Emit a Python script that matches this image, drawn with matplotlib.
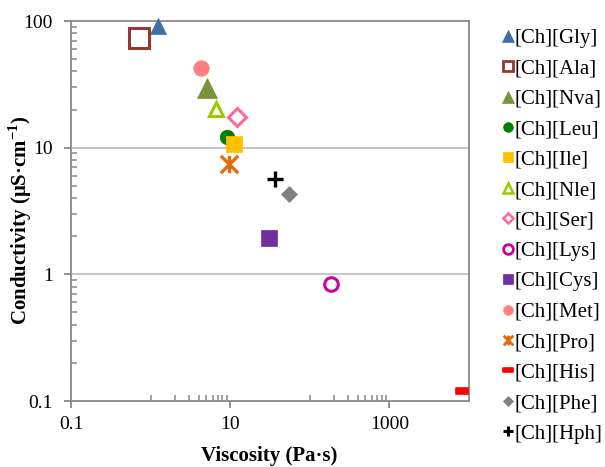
import matplotlib
matplotlib.use("Agg")
import matplotlib.pyplot as plt
from matplotlib.lines import Line2D
from matplotlib.path import Path
from matplotlib.ticker import FixedLocator, LogLocator, NullFormatter, FixedFormatter

plt.rcParams['font.family'] = 'Liberation Serif'
plt.rcParams['mathtext.fontset'] = 'custom'
plt.rcParams['mathtext.rm'] = 'Liberation Serif'
plt.rcParams['mathtext.bf'] = 'Liberation Serif:bold'

# ---- data ----
names = ["[Ch][Gly]", "[Ch][Ala]", "[Ch][Nva]", "[Ch][Leu]", "[Ch][Ile]", "[Ch][Nle]",
         "[Ch][Ser]", "[Ch][Lys]", "[Ch][Cys]", "[Ch][Met]", "[Ch][Pro]", "[Ch][His]",
         "[Ch][Phe]", "[Ch][Hph]"]
viscosity = [1.25, 0.71, 5.1, 9.2, 11.1, 6.7, 12.2, 186, 31, 4.24, 9.6, 8050, 55, 37]
conductivity = [91, 74, 29.5, 12.2, 10.6, 20.1, 17.5, 0.84, 1.94, 42.4, 7.4, 0.119, 4.3, 5.7]

x_major = [0.1, 10, 1000]
x_major_labels = ["0.1", "10", "1000"]
y_major = [0.1, 1, 10, 100]
y_major_labels = ["0.1", "1", "10", "100"]

# ---- styles ----
pro_path = Path([(-1, -1), (1, 1), (-1, 1), (1, -1), (0, -1), (0, 1)],
                [Path.MOVETO, Path.LINETO, Path.MOVETO, Path.LINETO, Path.MOVETO, Path.LINETO])
his_path = Path([(-1, -0.5), (1, -0.5), (1, 0.5), (-1, 0.5), (-1, -0.5)],
                [Path.MOVETO, Path.LINETO, Path.LINETO, Path.LINETO, Path.CLOSEPOLY])

# (marker, facecolor, edgecolor, ms, mew, legend ms, legend mew)
styles = [
    ('^', '#3F6FA6', '#3F6FA6', 12, 0.5, 8, 0.5),
    ('s', 'none', '#953735', 13.9, 2.2, 6.5, 2.0),
    ('^', '#77933C', '#77933C', 14.2, 0.5, 8, 0.5),
    ('o', '#008000', '#008000', 10.5, 0.5, 7, 0.5),
    ('s', '#FFC000', '#FFC000', 11.2, 0.5, 7, 0.5),
    ('^', 'none', '#99CC00', 9.5, 2.2, 6.5, 1.8),
    ('D', 'none', '#FF6699', 9.2, 2.2, 5, 1.8),
    ('o', 'none', '#D0009A', 9.8, 2.2, 7, 2.0),
    ('s', '#7030A0', '#7030A0', 11.2, 0.5, 7, 0.5),
    ('o', '#FF8080', '#FF8080', 11.2, 0.5, 7, 0.5),
    (pro_path, 'none', '#E46C0A', 12.5, 2.4, 7, 2.0),
    (his_path, '#FF0000', '#FF0000', 8.8, 1.2, 6.5, 1.2),
    ('D', '#808080', '#808080', 8.6, 0.5, 5, 0.5),
    ('+', '#000000', '#000000', 11, 2.4, 7.5, 2.2),
]

fig = plt.figure(figsize=(6.05, 4.67), dpi=100)
ax = fig.add_axes([71/605, 1-401/467, (469-71)/605, (401-21)/467])
ax.set_xscale('log')
ax.set_yscale('log')
ax.set_xlim(0.1, 10000)
ax.set_ylim(0.1, 100)

handles = []
for n, x, y, st in zip(names, viscosity, conductivity, styles):
    m, fc, ec, ms, mew, lms, lmew = st
    ax.plot([x], [y], linestyle='none', marker=m, markerfacecolor=fc, markeredgecolor=ec,
            markersize=ms, markeredgewidth=mew, clip_on=False, zorder=3)
    handles.append(Line2D([], [], linestyle='none', marker=m, markerfacecolor=fc,
                          markeredgecolor=ec, markersize=lms, markeredgewidth=lmew,
                          label=n))

# gridlines
for gy in [1, 10]:
    ax.axhline(gy, color='#BFBFBF', lw=1.3, zorder=1)

# axes styling
for sp in ax.spines.values():
    sp.set_color('#888888')
    sp.set_linewidth(1.3)

ax.xaxis.set_major_locator(FixedLocator(x_major))
ax.xaxis.set_major_formatter(FixedFormatter(x_major_labels))
ax.xaxis.set_minor_locator(FixedLocator([1, 2, 3, 4, 5, 6, 7, 8, 9,
                                         100, 200, 300, 400, 500, 600, 700, 800, 900]))
ax.xaxis.set_minor_formatter(NullFormatter())
ax.yaxis.set_major_locator(FixedLocator(y_major))
ax.yaxis.set_major_formatter(FixedFormatter(y_major_labels))
ax.yaxis.set_minor_locator(LogLocator(base=10, subs=[2, 3, 4, 5, 6, 7, 8, 9]))
ax.yaxis.set_minor_formatter(NullFormatter())

ax.tick_params(which='major', direction='out', length=5, width=1.3, color='#888888',
               labelsize=14, labelcolor='black')
ax.tick_params(axis='x', which='major', pad=6)
ax.tick_params(axis='y', which='major', pad=8)
ax.tick_params(which='minor', direction='in', length=4, width=1.1, color='#888888')

fig.text(269.5/605, 1-456.5/467, "Viscosity (Pa·s)", ha='center', va='center',
         fontsize=15, fontweight='bold')
fig.text(20/605, 1-220/467, r"Conductivity (μS·cm$^{\mathbf{-1}}$)", ha='center', va='center',
         rotation=90, fontsize=15, fontweight='bold')

leg = fig.legend(handles=handles, loc='upper left', bbox_to_anchor=(503/605, 1-28.5/467),
                 frameon=False, fontsize=15, handlelength=0.5, handletextpad=0.05,
                 labelspacing=0.52, borderpad=0, borderaxespad=0)

fig.savefig("out.png", dpi=100)
